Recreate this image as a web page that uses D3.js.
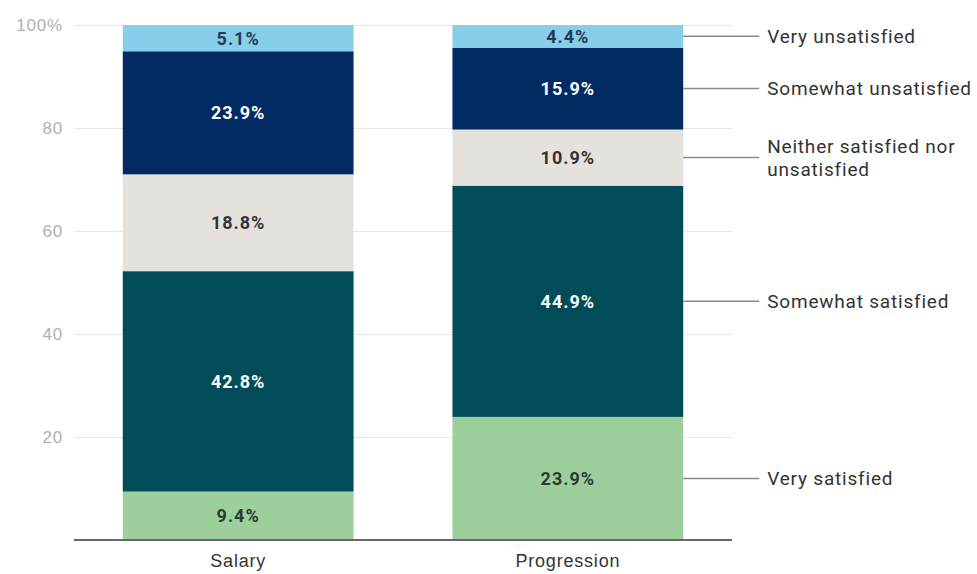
<!DOCTYPE html>
<html>
<head>
<meta charset="utf-8">
<script src="https://cdn.jsdelivr.net/npm/d3@7"></script>
<style>
  html, body { margin: 0; padding: 0; background: #fff; }
  svg { display: block; font-family: Roboto, "Noto Sans", sans-serif; }
</style>
</head>
<body>
<svg id="chart" width="977" height="574"></svg>
<script>
// Satisfaction levels, bottom of the stack first
const levels = ["Very satisfied", "Somewhat satisfied", "Neither satisfied nor unsatisfied", "Somewhat unsatisfied", "Very unsatisfied"];
const categories = ["Salary", "Progression"];
const salary = [9.4, 42.8, 18.8, 23.9, 5.1];
const progression = [23.9, 44.9, 10.9, 15.9, 4.4];
const yTicks = [0, 20, 40, 60, 80, 100];
const legendLines = [["Very satisfied"], ["Somewhat satisfied"], ["Neither satisfied nor", "unsatisfied"], ["Somewhat unsatisfied"], ["Very unsatisfied"]];

const fills = ["#9dcf9d", "#004c58", "#e5e2dd", "#022b63", "#87ceea"];
const textFills = ["#2b3a33", "#ffffff", "#333333", "#ffffff", "#243c52"];

const seriesByCategory = { Salary: salary, Progression: progression };
const rows = categories.map(c => {
  const r = { category: c };
  levels.forEach((l, i) => r[l] = seriesByCategory[c][i]);
  return r;
});
const stacked = d3.stack().keys(levels)(rows);

const svg = d3.select("#chart");
const margin = { left: 74, right: 245, top: 25, bottom: 34 };
const width = 977, height = 574;
const plotRight = width - margin.right;
const plotBottom = height - margin.bottom;

const x = d3.scaleBand().domain(categories)
  .range([margin.left, plotRight]).paddingInner(0.3).paddingOuter(0.148);
const y = d3.scaleLinear().domain([0, 100]).range([plotBottom, margin.top]);

// Gridlines and y tick labels
const yAxis = svg.append("g")
  .attr("transform", `translate(${margin.left},0)`)
  .call(d3.axisLeft(y).tickValues(yTicks)
    .tickSize(-(plotRight - margin.left))
    .tickFormat(d => d === 100 ? "100%" : d === 0 ? "" : d));
yAxis.select(".domain").remove();
yAxis.selectAll(".tick line").attr("stroke", "#e6e6e6").attr("stroke-width", 1);
yAxis.selectAll(".tick text").attr("fill", "#b0b0b0").attr("font-size", 17)
  .attr("letter-spacing", "0.8px").attr("x", -11);

// Stacked bars
const layer = svg.append("g").selectAll("g").data(stacked).join("g")
  .attr("fill", (d, i) => fills[i]);
layer.selectAll("rect").data(d => d).join("rect")
  .attr("x", d => x(d.data.category))
  .attr("width", x.bandwidth())
  .attr("y", d => y(d[1]))
  .attr("height", d => y(d[0]) - y(d[1]));

// Value labels inside each segment
stacked.forEach((s, i) => {
  svg.append("g").selectAll("text").data(s).join("text")
    .attr("x", d => x(d.data.category) + x.bandwidth() / 2)
    .attr("y", d => y((d[0] + d[1]) / 2))
    .attr("dy", "0.36em")
    .attr("text-anchor", "middle")
    .attr("font-size", 18)
    .attr("font-weight", "bold")
    .attr("letter-spacing", "1px")
    .attr("fill", textFills[i])
    .text(d => d3.format(".1f")(d[1] - d[0]) + "%");
});

// Baseline
const xAxis = svg.append("g")
  .attr("transform", `translate(0,${plotBottom})`)
  .call(d3.axisBottom(x).tickSize(0).tickPadding(14));
xAxis.select(".domain").attr("stroke", "#666").attr("stroke-width", 2)
  .attr("d", `M${margin.left},0H${plotRight}`);
xAxis.selectAll(".tick text").attr("fill", "#333").attr("font-size", 18)
  .attr("letter-spacing", "0.8px");

// Leader lines and legend labels beside the last bar
const last = stacked.map(s => s[s.length - 1]);
const barRight = x(categories[categories.length - 1]) + x.bandwidth();
const legend = svg.append("g");
last.forEach((d, i) => {
  const cy = y((d[0] + d[1]) / 2);
  legend.append("line")
    .attr("x1", barRight).attr("x2", barRight + 76)
    .attr("y1", cy).attr("y2", cy)
    .attr("stroke", "#8a8a8a").attr("stroke-width", 1.5);
  const lines = legendLines[i];
  const t = legend.append("text")
    .attr("x", barRight + 84)
    .attr("y", cy)
    .attr("font-size", 19)
    .attr("letter-spacing", "0.8px")
    .attr("fill", "#333");
  lines.forEach((ln, j) => {
    t.append("tspan")
      .attr("x", barRight + 84)
      .attr("dy", j === 0 ? (0.36 - (lines.length - 1) * 0.62) + "em" : "1.24em")
      .text(ln);
  });
});
</script>
</body>
</html>
